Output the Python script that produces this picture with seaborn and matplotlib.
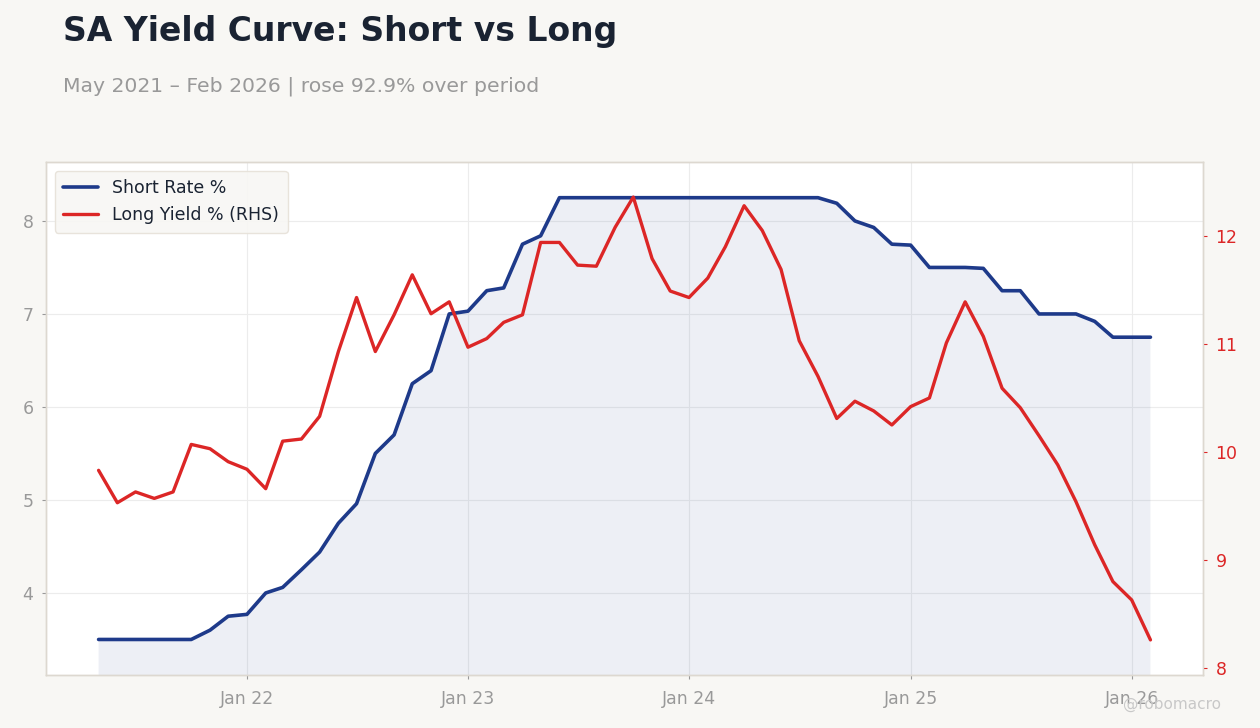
import numpy as np
import pandas as pd
import matplotlib
matplotlib.use("Agg")
import matplotlib.pyplot as plt
import matplotlib.dates as mdates
import seaborn as sns

# ---- data (monthly, May 2021 – Feb 2026) ----
dates = pd.date_range("2021-05-01", "2026-02-01", freq="MS")
short_rate = [
    3.50, 3.50, 3.50, 3.50, 3.50, 3.50, 3.60, 3.75,            # 2021 May-Dec
    3.77, 4.00, 4.06, 4.25, 4.44, 4.75, 4.96, 5.50, 5.70, 6.25, 6.39, 7.00,  # 2022
    7.03, 7.25, 7.28, 7.75, 7.84, 8.25, 8.25, 8.25, 8.25, 8.25, 8.25, 8.25,  # 2023
    8.25, 8.25, 8.25, 8.25, 8.25, 8.25, 8.25, 8.25, 8.19, 8.00, 7.93, 7.75,  # 2024
    7.74, 7.50, 7.50, 7.50, 7.49, 7.25, 7.25, 7.00, 7.00, 7.00, 6.92, 6.75,  # 2025
    6.75, 6.75,                                                # 2026
]
long_yield = [
    9.83, 9.53, 9.63, 9.57, 9.63, 10.07, 10.03, 9.91,          # 2021 May-Dec
    9.84, 9.66, 10.10, 10.12, 10.33, 10.93, 11.43, 10.93, 11.27, 11.64, 11.28, 11.39,  # 2022
    10.97, 11.05, 11.20, 11.27, 11.94, 11.94, 11.73, 11.72, 12.08, 12.36, 11.79, 11.49,  # 2023
    11.43, 11.61, 11.90, 12.28, 12.05, 11.69, 11.03, 10.70, 10.31, 10.47, 10.38, 10.25,  # 2024
    10.42, 10.50, 11.01, 11.39, 11.07, 10.59, 10.41, 10.15, 9.88, 9.54, 9.14, 8.80,      # 2025
    8.63, 8.26,                                                # 2026
]
df = pd.DataFrame({"date": dates, "short": short_rate, "long": long_yield})

title = "SA Yield Curve: Short vs Long"
subtitle = "May 2021 \u2013 Feb 2026 | rose 92.9% over period"

NAVY = "#1e3a8a"
RED = "#dc2626"
BG = "#f8f7f4"
GRAY = "#999999"

sns.set_theme(style="white")
plt.rcParams["font.family"] = ["DejaVu Sans"]

fig = plt.figure(figsize=(12.6, 7.28), dpi=100, facecolor=BG)
ax = fig.add_axes([0.0365, 0.0728, 0.9183, 0.7047])
ax.set_facecolor("white")

ax.fill_between(df["date"], df["short"], 0, color=NAVY, alpha=0.08, lw=0, zorder=1)
sns.lineplot(data=df, x="date", y="short", ax=ax, color=NAVY, lw=2.6,
             label="Short Rate %", zorder=3, legend=False)
ax2 = ax.twinx()
sns.lineplot(data=df, x="date", y="long", ax=ax2, color=RED, lw=2.4,
             label="Long Yield % (RHS)", zorder=3, legend=False)

ax.set_ylim(3.118, 8.634)
ax2.set_ylim(7.935, 12.685)
ax.set_yticks([4, 5, 6, 7, 8])
ax2.set_yticks([8, 9, 10, 11, 12])
ax.xaxis.set_major_locator(mdates.YearLocator())
ax.xaxis.set_major_formatter(mdates.DateFormatter("Jan %y"))

ax.grid(True, color="#ececec", lw=0.8, zorder=0)
ax.set_axisbelow(True)
ax.set_xlabel("")
ax.set_ylabel("")
ax2.set_ylabel("")

for a in (ax, ax2):
    for s in a.spines.values():
        s.set_color("#ddd8d0")
        s.set_linewidth(1.0)

ax.tick_params(axis="both", colors=GRAY, labelsize=12.5, length=3, width=0.8,
               left=True, bottom=True)
ax.tick_params(axis="x", pad=8)
ax.tick_params(axis="y", pad=6)
ax2.tick_params(axis="y", colors=RED, labelcolor=RED, labelsize=12.5, length=3,
                width=0.8, pad=6, right=True)
for lbl in ax.get_xticklabels() + ax.get_yticklabels():
    lbl.set_color(GRAY)

# legend combining both, placed on the top axes
h1, l1 = ax.get_legend_handles_labels()
h2, l2 = ax2.get_legend_handles_labels()
leg = ax2.legend(h1 + h2, l1 + l2, loc="upper left", fontsize=12.5,
                 frameon=True, facecolor=BG, edgecolor="#e6e1d8",
                 framealpha=0.9, borderpad=0.5, handlelength=2.0)
for t in leg.get_texts():
    t.set_color("#1a2332")
leg.set_zorder(10)

fig.text(0.05, 0.957, title, fontsize=23.75, fontweight="bold", color="#1a2332",
         ha="left", va="center")
fig.text(0.05, 0.882, subtitle, fontsize=14.65, color=GRAY, ha="left", va="center")
fig.text(0.969, 0.032, "@robomacro", fontsize=11, color="#c8c8c8", ha="right",
         va="center")

fig.savefig("out.png", dpi=100, facecolor=BG)
